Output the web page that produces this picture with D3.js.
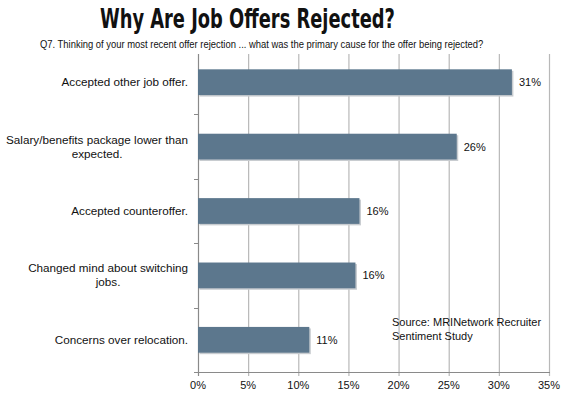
<!DOCTYPE html>
<html>
  <head>
    <title>Why Are Job Offers Rejected?</title>
    <script src="https://d3js.org/d3.v7.min.js"></script>
    <style>
      body { margin: 0; background: #fff; }
      .title {
        font-family: "DejaVu Sans", sans-serif;
        font-weight: bold;
        font-size: 26px;
        fill: #111;
      }
      .subtitle {
        font-family: "Liberation Sans", Arial, sans-serif;
        font-size: 11.5px;
        fill: #111;
      }
      .label, .value, .tick-label, .source {
        font-family: "Liberation Sans", Arial, sans-serif;
        fill: #111;
      }
    </style>
  </head>
  <body>
    <svg width="572" height="399"></svg>
    <script>
      const categories = [
        ["Accepted other job offer."],
        ["Salary/benefits package lower than", "expected."],
        ["Accepted counteroffer."],
        ["Changed mind about switching", "jobs."],
        ["Concerns over relocation."]
      ];
      const values = [31.3, 25.8, 16.1, 15.7, 11.1];
      const valueLabels = ["31%", "26%", "16%", "16%", "11%"];
      const xTicks = [0, 5, 10, 15, 20, 25, 30, 35];
      const sourceLines = ["Source: MRINetwork Recruiter", "Sentiment Study"];

      // squeeze a text horizontally so it spans `w` pixels starting at x0
      function narrow(text, x0, baseline, w) {
        text.attr("x", 0).attr("y", 0);
        const natural = text.node().getComputedTextLength();
        text.attr("transform", `translate(${x0}, ${baseline}) scale(${w / natural}, 1)`);
      }

      function main() {
        const svg = d3.select("svg");
        const margin = {top: 50, left: 198, right: 23, bottom: 27};
        const width = 572 - margin.left - margin.right;
        const height = 399 - margin.top - margin.bottom;

        svg.append("text")
            .attr("class", "title")
            .text("Why Are Job Offers Rejected?")
            .call(narrow, 100, 28, 295);

        svg.append("text")
            .attr("class", "subtitle")
            .text("Q7. Thinking of your most recent offer rejection ... what was the primary cause for the offer being rejected?")
            .call(narrow, 40, 48, 444);

        const g = svg.append("g")
            .attr("transform", `translate(${margin.left}, ${margin.top})`);

        const x = d3.scaleLinear().domain([0, 35]).range([0, width]);
        const y = d3.scaleBand()
            .domain(d3.range(categories.length))
            .range([0, height])
            .paddingInner(0.6)
            .paddingOuter(0.3);

        // gridlines
        g.selectAll(".grid")
          .data(xTicks)
          .enter().append("line")
            .attr("class", "grid")
            .attr("x1", d => x(d) + 0.5)
            .attr("x2", d => x(d) + 0.5)
            .attr("y1", 4)
            .attr("y2", height + 4)
            .attr("stroke", d => d === 0 ? "#8a8a8a" : "#b8b8b8")
            .attr("stroke-width", 1.2);

        // category boundary ticks on the left axis
        const bounds = d3.range(1, categories.length + 1).map(i => i * height / categories.length);
        g.selectAll(".ytick")
          .data(bounds)
          .enter().append("line")
            .attr("x1", -4)
            .attr("x2", 0)
            .attr("y1", d => Math.round(d) + 0.5)
            .attr("y2", d => Math.round(d) + 0.5)
            .attr("stroke", "#8a8a8a");

        // x axis baseline
        g.append("line")
            .attr("x1", -4)
            .attr("x2", width + 1)
            .attr("y1", height + 0.5)
            .attr("y2", height + 0.5)
            .attr("stroke", "#8a8a8a");

        // source note (gridlines cross it)
        svg.append("g").selectAll("text")
          .data(sourceLines)
          .enter().append("text")
            .attr("class", "source")
            .attr("x", 392)
            .attr("y", (d, i) => 326 + i * 14)
            .attr("font-size", 11)
            .text(d => d);

        // bar shadows
        g.selectAll(".shadow")
          .data(values)
          .enter().append("rect")
            .attr("x", 1.5)
            .attr("y", (d, i) => y(i) + 1.5)
            .attr("width", d => x(d))
            .attr("height", y.bandwidth())
            .attr("fill", "#c8ccd0");

        g.selectAll(".bar")
          .data(values)
          .enter().append("rect")
            .attr("class", "bar")
            .attr("x", 0)
            .attr("y", (d, i) => y(i))
            .attr("width", d => x(d))
            .attr("height", y.bandwidth())
            .attr("fill", "#5c778d");

        g.selectAll(".value")
          .data(values)
          .enter().append("text")
            .attr("class", "value")
            .attr("x", d => x(d) + 7)
            .attr("y", (d, i) => y(i) + y.bandwidth() / 2 + 4)
            .attr("font-size", 11)
            .text((d, i) => valueLabels[i]);

        // category labels
        const labelRight = -10;
        categories.forEach((lines, i) => {
          const t = g.append("text")
              .attr("class", "label")
              .attr("font-size", 11.7)
              .attr("text-anchor", "middle");
          const cy = y(i) + y.bandwidth() / 2;
          const y0 = cy + 4 - (lines.length - 1) * 7;
          lines.forEach((line, j) => {
            t.append("tspan").attr("y", y0 + j * 14).text(line);
          });
          let w = 0;
          t.selectAll("tspan").each(function() {
            w = Math.max(w, this.getComputedTextLength());
          });
          t.selectAll("tspan").attr("x", labelRight - w / 2);
        });

        // x tick labels
        g.selectAll(".tick-label")
          .data(xTicks)
          .enter().append("text")
            .attr("class", "tick-label")
            .attr("x", d => x(d))
            .attr("y", height + 17)
            .attr("text-anchor", "middle")
            .attr("font-size", 11)
            .text(d => d + "%");
      }
      main();
    </script>
  </body>
</html>
